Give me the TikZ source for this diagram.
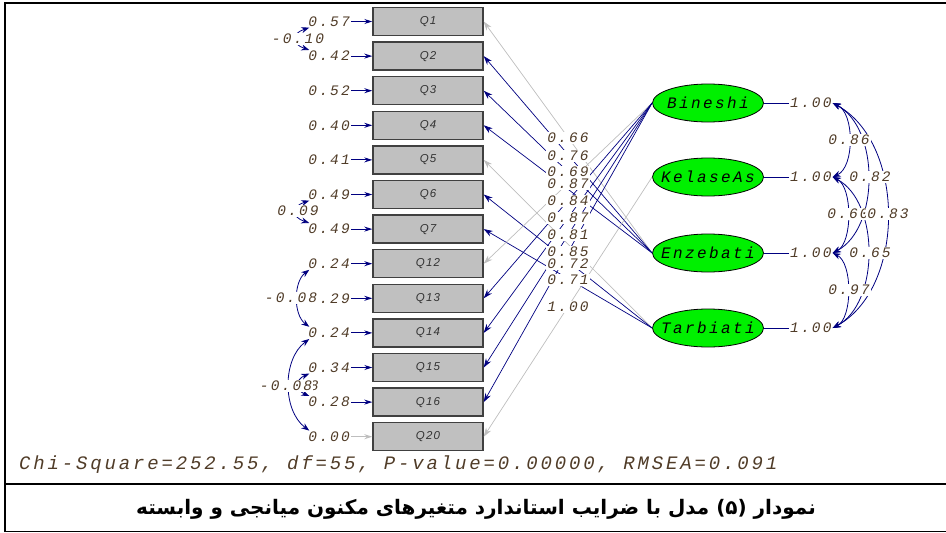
\documentclass[tikz,border=0pt]{standalone}
\usepackage{fontspec}
\usepackage{xcolor}
\usepackage{tikz}
\usetikzlibrary{arrows.meta,shapes.geometric}

\TeXXeTstate=1
\newfontfamily\lisfont[LetterSpace=15]{Liberation Mono}
\newfontfamily\qsans[LetterSpace=10]{Liberation Sans}
\newfontfamily\persfont[Script=Arabic]{DejaVu Sans}
\newcommand{\numfont}{\lisfont\itshape\fontsize{14.5}{16}\selectfont}
\newcommand{\chifont}{\lisfont\itshape\fontsize{19}{21}\selectfont}
\newcommand{\latfont}{\lisfont\itshape\fontsize{16}{18}\selectfont}
\newcommand{\qfont}{\qsans\itshape\fontsize{11.5}{13}\selectfont}

\definecolor{navy}{RGB}{0,0,128}
\definecolor{fixgray}{RGB}{190,190,190}
\definecolor{numtxt}{RGB}{80,60,40}
\definecolor{boxgray}{RGB}{192,192,192}
\definecolor{latgreen}{RGB}{0,240,0}

\begin{document}
\begin{tikzpicture}[x=1pt,y=-1pt]
    \tikzstyle{item} = [draw=black!75,line width=1.4pt,fill=boxgray,minimum width=110pt,minimum height=28pt,inner sep=0pt,font=\qfont,text=black!80]
    \tikzstyle{latent} = [ellipse,draw=black,line width=0.8pt,fill=latgreen,minimum width=111pt,minimum height=38pt,inner sep=0pt,font=\latfont]
    \tikzstyle{num} = [text=numtxt,inner sep=1pt,font=\numfont]
    \tikzstyle{numw} = [num,fill=white]
    \tikzstyle{load} = [navy,line width=0.7pt,-{Stealth[length=9pt,width=6pt]}]
    \tikzstyle{fixload} = [load,fixgray]
    \tikzstyle{err} = [navy,line width=1pt,-{Stealth[length=8pt,width=5pt]}]
    \tikzstyle{cov} = [navy,line width=0.8pt,{Stealth[length=8pt,width=6pt]}-{Stealth[length=8pt,width=6pt]}]

    \useasboundingbox (0,0) rectangle (946,533);

    % frame
    \draw[line width=2.5pt] (5,532) -- (5,3) -- (946,3);
    \draw[line width=1.5pt] (5,484) -- (946,484);
    \draw[line width=1.5pt] (5,531.5) -- (946,531.5);

    % observed variables
    \node[item] (q1) at (428,21.5) {Q1};
    \node[item] (q2) at (428,56.1) {Q2};
    \node[item] (q3) at (428,90.7) {Q3};
    \node[item] (q4) at (428,125.3) {Q4};
    \node[item] (q5) at (428,159.9) {Q5};
    \node[item] (q6) at (428,194.5) {Q6};
    \node[item] (q7) at (428,229.1) {Q7};
    \node[item] (q12) at (428,263.7) {Q12};
    \node[item] (q13) at (428,298.3) {Q13};
    \node[item] (q14) at (428,332.9) {Q14};
    \node[item] (q15) at (428,367.5) {Q15};
    \node[item] (q16) at (428,402.1) {Q16};
    \node[item] (q20) at (428,436.7) {Q20};

    % latent variables
    \node[latent] (bin) at (708,103) {\makebox[0pt]{Bineshi}};
    \node[latent] (kel) at (708,177) {\makebox[0pt]{KelaseAs}};
    \node[latent] (enz) at (708,253) {\makebox[0pt]{Enzebati}};
    \node[latent] (tar) at (708,328) {\makebox[0pt]{Tarbiati}};

    % loadings
    \draw[fixload] (enz.west) -- (q1.east);
    \draw[load] (enz.west) -- (q2.east);
    \draw[load] (enz.west) -- (q3.east);
    \draw[load] (enz.west) -- (q4.east);
    \draw[fixload] (tar.west) -- (q5.east);
    \draw[load] (tar.west) -- (q6.east);
    \draw[load] (tar.west) -- (q7.east);
    \draw[fixload] (bin.west) -- (q12.east);
    \draw[load] (bin.west) -- (q13.east);
    \draw[load] (bin.west) -- (q14.east);
    \draw[load] (bin.west) -- (q15.east);
    \draw[load] (bin.west) -- (q16.east);
    \draw[fixload] (kel.west) -- (q20.east);

    \node[numw] (l1) at (568,138) {0.66};
    \node[numw] (l2) at (568,156) {0.76};
    \node[numw] (l3) at (568,172) {0.69};
    \node[numw] (l4) at (568,184) {0.87};
    \node[numw] (l5) at (568,201) {0.84};
    \node[numw] (l6) at (568,218) {0.87};
    \node[numw] (l7) at (568,235) {0.81};
    \node[numw] (l9) at (568,264) {0.72};
    \node[numw] (l8) at (568,252) {0.85};
    \node[numw] (l10) at (568,280) {0.71};
    \node[numw] (l11) at (568,307) {1.00};

    % error variances
    \node[num,anchor=east] (e1) at (351,21.5) {0.57};
    \node[num,anchor=east] (e2) at (351,56.1) {0.42};
    \node[num,anchor=east] (e3) at (351,90.7) {0.52};
    \node[num,anchor=east] (e4) at (351,125.3) {0.40};
    \node[num,anchor=east] (e5) at (351,159.9) {0.41};
    \node[num,anchor=east] (e6) at (351,194.5) {0.49};
    \node[num,anchor=east] (e7) at (351,229.1) {0.49};
    \node[num,anchor=east] (e12) at (351,263.7) {0.24};
    \node[num,anchor=east] (e13) at (351,298.3) {0.29};
    \node[num,anchor=east] (e14) at (351,332.9) {0.24};
    \node[num,anchor=east] (e15) at (351,367.5) {0.34};
    \node[num,anchor=east] (e16) at (351,402.1) {0.28};
    \node[num,anchor=east] (e20) at (351,436.7) {0.00};

    \draw[err] (e1) -- (q1);
    \draw[err] (e2) -- (q2);
    \draw[err] (e3) -- (q3);
    \draw[err] (e4) -- (q4);
    \draw[err] (e5) -- (q5);
    \draw[err] (e6) -- (q6);
    \draw[err] (e7) -- (q7);
    \draw[err] (e12) -- (q12);
    \draw[err] (e13) -- (q13);
    \draw[err] (e14) -- (q14);
    \draw[err] (e15) -- (q15);
    \draw[err] (e16) -- (q16);
    \draw[err,fixgray] (e20) -- (q20);

    % error covariances
    \draw[cov] ([xshift=2pt]e1.south west) .. controls +(-18,6) and +(-18,-6) .. ([xshift=2pt]e2.north west);
    \draw[cov] ([xshift=2pt]e6.south west) .. controls +(-18,6) and +(-18,-6) .. ([xshift=2pt]e7.north west);
    \draw[cov] ([xshift=2pt]e12.south west) .. controls +(-16,12) and +(-16,-12) .. ([xshift=2pt]e14.north west);
    \draw[cov] ([xshift=2pt]e15.south west) .. controls +(-14,6) and +(-14,-6) .. ([xshift=2pt]e16.north west);
    \draw[cov] ([xshift=2pt]e14.south west) .. controls +(-27,20) and +(-27,-20) .. ([xshift=2pt]e20.north west);
    \node[numw] (c1) at (298,39) {-0.10};
    \node[numw] (c2) at (298,211) {0.09};
    \node[numw] (c3) at (291,298) {-0.08};
    \node[numw] (c5) at (298,386) {0.08};
    \node[numw] (c4) at (286,386) {-0.08};

    % latent variances and correlations
    \node[num,anchor=west] (r1) at (789,103) {1.00};
    \node[num,anchor=west] (r2) at (789,177) {1.00};
    \node[num,anchor=west] (r3) at (789,253) {1.00};
    \node[num,anchor=west] (r4) at (789,328) {1.00};
    \draw[navy,line width=0.9pt] (r1) -- (bin);
    \draw[navy,line width=0.9pt] (r2) -- (kel);
    \draw[navy,line width=0.9pt] (r3) -- (enz);
    \draw[navy,line width=0.9pt] (r4) -- (tar);

    \draw[cov] (r1.east) .. controls +(22,10) and +(22,-10) .. (r2.east);
    \draw[cov] (r1.east) .. controls +(47,25) and +(47,-25) .. (r3.east);
    \draw[cov] (r1.east) .. controls +(73,40) and +(73,-40) .. (r4.east);
    \draw[cov] (r2.east) .. controls +(20,10) and +(20,-10) .. (r3.east);
    \draw[cov] (r2.east) .. controls +(47,25) and +(47,-25) .. (r4.east);
    \draw[cov] (r3.east) .. controls +(20,10) and +(20,-10) .. (r4.east);
    \node[numw] (k1) at (849,140) {0.86};
    \node[numw] (k2) at (870,177) {0.82};
    \node[numw] (k4) at (848,214) {0.60};
    \node[numw] (k3) at (888,214) {0.83};
    \node[numw] (k5) at (870,253) {0.65};
    \node[numw] (k6) at (849,290) {0.97};

    % fit line and caption
    \node[anchor=west,text=numtxt,font=\chifont,inner sep=0pt] (fit) at (19,465) {Chi-Square=252.55, df=55, P-value=0.00000, RMSEA=0.091};
    \node[font=\persfont\bfseries\fontsize{20}{24}\selectfont,inner sep=0pt] (cap) at (476,509) {\beginR نمودار (۵) مدل با ضرایب استاندارد متغیرهای مکنون میانجی و وابسته\endR};
\end{tikzpicture}
\end{document}
